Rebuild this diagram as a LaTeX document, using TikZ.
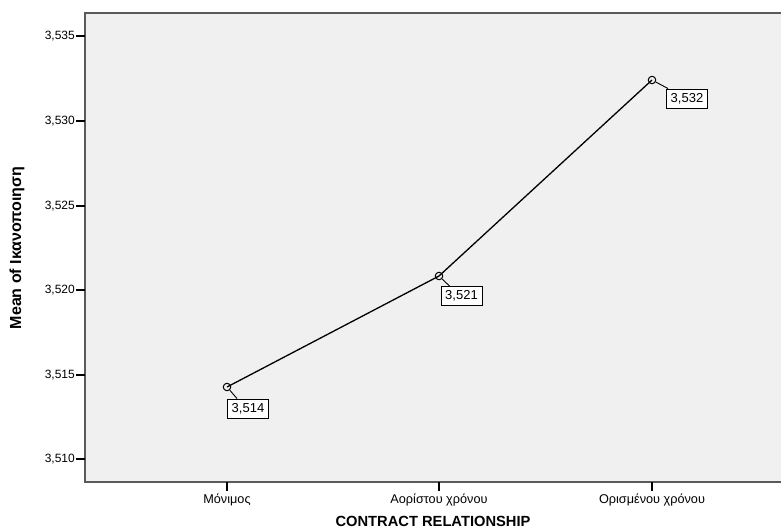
\documentclass[tikz,border=0pt]{standalone}
\usepackage{fontspec}
\setmainfont{Liberation Sans}
\usetikzlibrary{calc}
\definecolor{plotbg}{HTML}{F0F0F0}
\definecolor{framegray}{HTML}{5A5A5A}
\tikzset{
  frameline/.style={draw=framegray, line width=1.3pt},
  tickline/.style={draw=black, line width=1.1pt},
  ticklab/.style={font=\fontsize{12}{13}\selectfont, inner sep=0pt},
  catlab/.style={font=\fontsize{12.7}{13}\selectfont, inner sep=0pt},
  datapt/.style={circle, draw=black, line width=1pt, minimum size=7.5pt, inner sep=0pt},
  dataline/.style={draw=black, line width=1.3pt},
  vallab/.style={draw=black, line width=0.9pt, fill=white, minimum width=41pt, minimum height=19pt, inner sep=0pt, font=\fontsize{13}{14}\selectfont},
  leader/.style={draw=black, line width=0.9pt}
}
\begin{document}
\begin{tikzpicture}[x=1pt,y=-1pt]
\useasboundingbox (0,0) rectangle (781,531);
\fill[white] (0,0) rectangle (781,531);
\fill[plotbg] (85,13) rectangle (781,482);
\draw[frameline] (781,13) -- (85,13) -- (85,482) -- (781,482);
% y ticks
\foreach \yy/\tt [count=\i] in {36/535,121/530,206/525,290/520,375/515,459/510}{
  \coordinate (yt\i) at (76,\yy);
  \coordinate (ya\i) at (85,\yy);
  \draw[tickline] (yt\i) -- (ya\i);
  \node[ticklab, anchor=east] (yl\i) at ($(yt\i)+(-1,0)$) {3,\tt};
}
% x ticks
\foreach \xx/\tt [count=\i] in {227/Μόνιμος,439/Αορίστου χρόνου,652/Ορισμένου χρόνου}{
  \coordinate (xa\i) at (\xx,482);
  \coordinate (xt\i) at (\xx,491);
  \draw[tickline] (xa\i) -- (xt\i);
  \node[catlab] (xl\i) at (\xx,500) {\tt};
}
% axis titles
\node[font=\bfseries\fontsize{16}{17}\selectfont, rotate=90] (ytitle) at (17,248) {Mean of Ικανοποιηση};
\node[font=\bfseries\fontsize{14.7}{15}\selectfont] (xtitle) at (433,521) {CONTRACT RELATIONSHIP};
% data
\node[datapt] (p1) at (227,387) {};
\node[datapt] (p2) at (439,276) {};
\node[datapt] (p3) at (652,80) {};
\draw[dataline] (p1.center) -- (p2.center) -- (p3.center);
% value labels
\node[vallab] (l1) at (248,408.5) {3,514};
\node[vallab] (l2) at (461.5,296) {3,521};
\node[vallab] (l3) at (687,98.5) {3,532};
\draw[leader] (p1) -- ($(l1.north west)+(10,0)$);
\draw[leader] (p2) -- ($(l2.north west)+(9,0)$);
\draw[leader] (p3) -- ($(l3.north west)+(2,0)$);
\end{tikzpicture}
\end{document}
